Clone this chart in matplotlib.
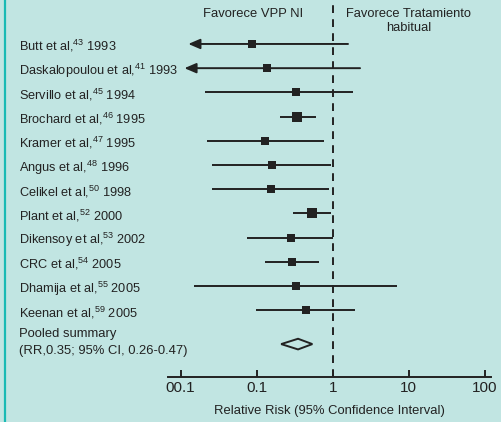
import numpy as np
import matplotlib
matplotlib.use("Agg")
import matplotlib.pyplot as plt
import matplotlib.transforms as mtransforms
from matplotlib.lines import Line2D

plt.rcParams['font.family'] = ['Liberation Sans', 'DejaVu Sans']
plt.rcParams['mathtext.fontset'] = 'custom'
plt.rcParams['mathtext.rm'] = 'Liberation Sans'
plt.rcParams['mathtext.it'] = 'Liberation Sans:italic'

# ---- datos ----
autores = ["Butt et al", "Daskalopoulou et al", "Servillo et al", "Brochard et al",
           "Kramer et al", "Angus et al", "Celikel et al", "Plant et al",
           "Dikensoy et al", "CRC et al", "Dhamija et al", "Keenan et al"]
refs = ["43", "41", "45", "46", "47", "48", "50", "52", "53", "54", "55", "59"]
anios = ["1993", "1993", "1994", "1995", "1995", "1996", "1998", "2000",
         "2002", "2005", "2005", "2005"]
rr = [0.087, 0.138, 0.33, 0.34, 0.13, 0.16, 0.155, 0.54, 0.28, 0.29, 0.33, 0.45]
ci_lo = [0.0126, 0.0112, 0.021, 0.20, 0.022, 0.026, 0.026, 0.30, 0.075, 0.13, 0.015, 0.098]
ci_hi = [1.59, 2.29, 1.85, 0.60, 0.77, 0.94, 0.90, 0.94, 1.0, 0.66, 7.0, 1.97]
flecha = [True, True, False, False, False, False, False, False, False, False, False, False]
grande = [False, False, False, True, False, False, False, True, False, False, False, False]
pooled = (0.21, 0.35, 0.54)   # extremos dibujados del rombo y estimacion
ticks = [0.01, 0.1, 1, 10, 100]
tick_labels = ["00.1", "0.1", "1", "10", "100"]
# ----------------------------------

BG = '#c1e5e2'
INK = '#222222'

fig = plt.figure(figsize=(5.02, 4.22), dpi=100, facecolor=BG)
ax = fig.add_axes([168 / 502, 45 / 422, 323 / 502, 372 / 422])
ax.set_facecolor(BG)
ax.set_xscale('log')
ax.set_xlim(0.00681, 121)

n = len(autores)
ypos = np.arange(n)
y_pool = n + 0.4
ax.set_ylim(13.76, -1.61)

for i in range(n):
    if flecha[i]:
        ax.annotate('', xy=(ci_lo[i], ypos[i]), xytext=(ci_hi[i], ypos[i]),
                    arrowprops=dict(arrowstyle='-|>,head_length=0.7,head_width=0.3',
                                    color=INK, lw=1.4, shrinkA=0, shrinkB=0))
    else:
        ax.plot([ci_lo[i], ci_hi[i]], [ypos[i], ypos[i]], color=INK, lw=1.4,
                solid_capstyle='butt')
    ax.plot(rr[i], ypos[i], marker='s', color=INK, ms=7.5 if grande[i] else 6,
            mew=0)

# rombo del resumen
lo, est, hi = pooled
h = 0.22
ax.fill([lo, est, hi, est, lo], [y_pool, y_pool - h, y_pool, y_pool + h, y_pool],
        facecolor='none', edgecolor=INK, lw=1.4)

# linea de no efecto
ax.axvline(1, color=INK, lw=1.4, linestyle=(0, (4.0, 3.2)))

for s in ['top', 'right', 'left']:
    ax.spines[s].set_visible(False)
ax.spines['bottom'].set_color(INK)
ax.spines['bottom'].set_linewidth(1.4)
ax.set_yticks([])
ax.set_xticks(ticks)
ax.set_xticklabels(tick_labels)
ax.minorticks_off()
ax.tick_params(axis='x', direction='in', length=5, width=1.4, color=INK,
               labelsize=11, labelcolor=INK, pad=3)
ax.set_xlabel("Relative Risk (95% Confidence Interval)", fontsize=9.4,
              color=INK, labelpad=7)

# etiquetas de estudios
trans = mtransforms.blended_transform_factory(fig.transFigure, ax.transData)
for i in range(n):
    ax.text(19 / 502, ypos[i] + 0.1,
            autores[i] + r",$^{\mathrm{" + refs[i] + r"}}$ " + anios[i],
            transform=trans, fontsize=9.2, color=INK, va='center', ha='left',
            clip_on=False)
ax.text(19 / 502, y_pool - 0.4, "Pooled summary", transform=trans, fontsize=9.4,
        color=INK, va='center', ha='left')
ax.text(19 / 502, y_pool + 0.28, "(RR,0.35; 95% CI, 0.26-0.47)", transform=trans,
        fontsize=9.4, color=INK, va='center', ha='left')

# encabezados
fig.text(253 / 502, 1 - 14 / 422, "Favorece VPP NI", fontsize=9.4, color=INK,
         ha='center', va='center')
fig.text(409 / 502, 1 - 21 / 422, "Favorece Tratamiento\nhabitual", fontsize=9.3,
         color=INK, ha='center', va='center', linespacing=1.15)

# borde izquierdo
fig.add_artist(Line2D([5 / 502, 5 / 502], [0, 1], transform=fig.transFigure,
                      color='#19bab4', lw=1.6))

fig.savefig("out.png", dpi=100, facecolor=BG)
